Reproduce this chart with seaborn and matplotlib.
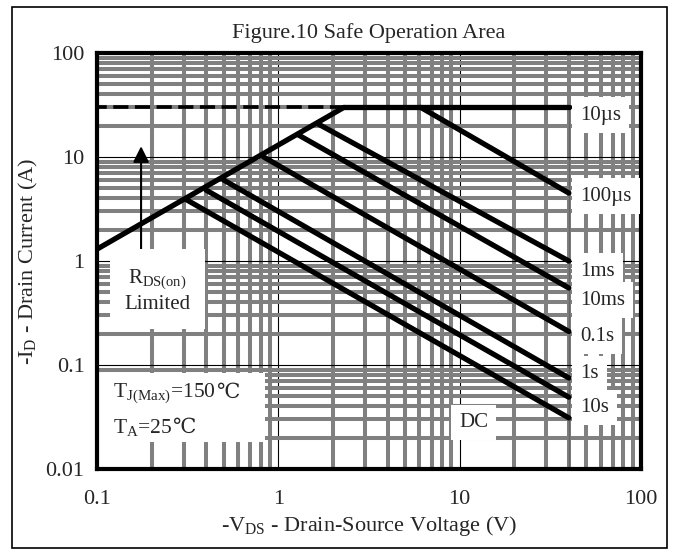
import numpy as np
import matplotlib
matplotlib.use('Agg')
import matplotlib.pyplot as plt
import matplotlib.patches as patches
import seaborn as sns

# limit lines of the safe operating area
rds_x = [0.1, 2.3]
rds_y = [1.3, 30.0]
dash_x = [0.1, 2.3]
dash_y = [30.0, 30.0]
top_x = [2.3, 40.0]
top_y = [30.0, 30.0]
vmax_x = [40.0, 40.0]
vmax_y = [30.0, 0.01]

pulse_start_x = [6.1, 1.64, 1.29, 0.83, 0.50, 0.40, 0.31]
pulse_start_y = [30.0, 21.0, 16.3, 10.0, 6.0, 4.8, 3.9]
pulse_end_x = [40.0, 40.0, 40.0, 40.0, 40.0, 40.0, 40.0]
pulse_end_y = [4.5, 1.0, 0.55, 0.21, 0.075, 0.049, 0.031]

pulse_labels = ['10\u00b5s', '100\u00b5s', '1ms', '10ms', '0.1s', '1s', '10s']
label_y = [25.3, 4.2, 0.80, 0.42, 0.19, 0.082, 0.039]
label_x = 46.0

x_ticks = [0.1, 1, 10, 100]
x_ticklabels = ['0.1', '1', '10', '100']
y_ticks = [0.01, 0.1, 1, 10, 100]
y_ticklabels = ['0.01', '0.1', '1', '10', '100']

sns.set_style('white')
plt.rcParams['font.family'] = ['Liberation Serif', 'DejaVu Serif', 'DejaVu Sans']
plt.rcParams['mathtext.fontset'] = 'custom'
plt.rcParams['mathtext.rm'] = 'Liberation Serif'
plt.rcParams['mathtext.it'] = 'Liberation Serif'

fig = plt.figure(figsize=(6.75, 5.53), dpi=100)
ax = fig.add_axes([97 / 675, 1 - 469 / 553, 544 / 675, 416 / 553])
ax.set_xscale('log')
ax.set_yscale('log')
ax.set_xlim(0.1, 100)
ax.set_ylim(0.01, 100)

# grid: thick gray minor lines, thin black major lines
ax.grid(which='minor', color='#808080', linewidth=2.9, zorder=0)
ax.grid(which='major', color='black', linewidth=0.8, zorder=1)
ax.set_axisbelow(True)

lw = 3.8
sns.lineplot(x=rds_x, y=rds_y, ax=ax, color='black', linewidth=lw, zorder=3)
sns.lineplot(x=dash_x, y=dash_y, ax=ax, color='black', linewidth=2.6, linestyle=(1.5, (4.2, 1.8)), zorder=3)
sns.lineplot(x=top_x, y=top_y, ax=ax, color='black', linewidth=lw, zorder=3)
sns.lineplot(x=vmax_x, y=vmax_y, ax=ax, color='black', linewidth=lw, zorder=3, sort=False)
for i in range(len(pulse_start_x)):
    sns.lineplot(x=[pulse_start_x[i], pulse_end_x[i]], y=[pulse_start_y[i], pulse_end_y[i]],
                 ax=ax, color='black', linewidth=lw, zorder=3)

box = dict(boxstyle='square,pad=0.4', facecolor='white', edgecolor='none')
for lab, yy in zip(pulse_labels, label_y):
    ax.text(label_x, yy, lab, fontsize=15, ha='left', va='center', bbox=box, zorder=6, clip_on=False)
ax.text(9.9, 0.028, 'DC', fontsize=15, ha='left', va='center', bbox=box, zorder=6)

ax.annotate('', xy=(0.175, 13.5), xytext=(0.175, 1.22),
            arrowprops=dict(arrowstyle='-|>', color='black', lw=1.5, mutation_scale=24), zorder=4)
ax.text(0.215, 0.52, '$\\mathregular{R_{DS(on)}}$\nLimited', fontsize=15, ha='center', va='center',
        linespacing=1.3, bbox=dict(boxstyle='square,pad=0.7', facecolor='white', edgecolor='none'), zorder=6)

# white panel behind the temperature note
ax.add_patch(patches.Rectangle((0.0, 0.065), 0.309, 0.166, transform=ax.transAxes,
                               facecolor='white', edgecolor='none', zorder=5))
t1 = ax.text(0.1225, 0.054, '$\\mathregular{T_{J(Max)}}$=150', fontsize=15.5, ha='left', va='center', zorder=6)
ax.annotate('\u2103', xy=(1, 0.5), xycoords=t1, fontsize=15, ha='left', va='center', zorder=6,
            family=['DejaVu Serif', 'DejaVu Sans'])
t2 = ax.text(0.1225, 0.025, '$\\mathregular{T_A}$=25', fontsize=15.5, ha='left', va='center', zorder=6)
ax.annotate('\u2103', xy=(1, 0.5), xycoords=t2, fontsize=15, ha='left', va='center', zorder=6,
            family=['DejaVu Serif', 'DejaVu Sans'])

ax.set_xticks(x_ticks)
ax.set_xticklabels(x_ticklabels)
ax.set_yticks(y_ticks)
ax.set_yticklabels(y_ticklabels)
ax.tick_params(which='both', length=0, labelsize=16)
ax.tick_params(axis='x', pad=15)
ax.tick_params(axis='y', pad=9)
for s in ax.spines.values():
    s.set_linewidth(3)
    s.set_color('black')
    s.set_zorder(5)

ax.set_title('Figure.10 Safe Operation Area', fontsize=16, pad=11)
ax.set_xlabel('-$\\mathregular{V_{DS}}$ - Drain-Source Voltage (V)', fontsize=16, labelpad=4)
ax.set_ylabel('-$\\mathregular{I_D}$ - Drain Current (A)', fontsize=16, labelpad=4)

fig.patches.append(patches.Rectangle((12 / 675, 1 - 548 / 553), 655 / 675, 541 / 553,
                                     transform=fig.transFigure, fill=False, edgecolor='black', linewidth=1.2))

fig.savefig('out.png', dpi=100)
